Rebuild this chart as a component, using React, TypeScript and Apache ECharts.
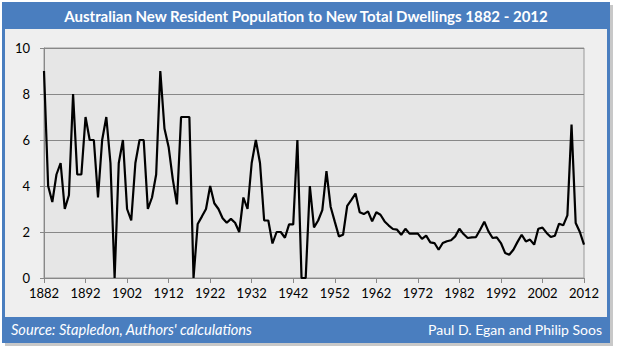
import React, { useEffect, useRef } from "react";
import * as echarts from "echarts";

const START_YEAR = 1882;
const END_YEAR = 2012;
const years: string[] = Array.from({ length: END_YEAR - START_YEAR + 1 }, (_, i) => String(START_YEAR + i));

// Ratio of new resident population to new total dwellings, 1882-2012
const ratio1882_1891 = [9.0, 4.0, 3.3, 4.5, 5.0, 3.0, 3.6, 8.0, 4.5, 4.5];
const ratio1892_1901 = [7.0, 6.0, 6.0, 3.5, 6.0, 7.0, 5.0, 0, 5.0, 6.0];
const ratio1902_1911 = [3.0, 2.5, 5.0, 6.0, 6.0, 3.0, 3.5, 4.5, 9.0, 6.5];
const ratio1912_1921 = [5.7, 4.3, 3.2, 7.0, 7.0, 7.0, 0, 2.35, 2.67, 3.0];
const ratio1922_1931 = [4.0, 3.25, 3.0, 2.6, 2.4, 2.57, 2.4, 2.0, 3.5, 3.0];
const ratio1932_1941 = [5.0, 6.0, 5.0, 2.5, 2.5, 1.5, 2.0, 2.0, 1.75, 2.33];
const ratio1942_1951 = [2.33, 6.0, 0, 0, 4.0, 2.2, 2.5, 2.95, 4.65, 3.1];
const ratio1952_1961 = [2.45, 1.81, 1.88, 3.14, 3.4, 3.67, 2.86, 2.78, 2.9, 2.46];
const ratio1962_1971 = [2.86, 2.75, 2.46, 2.28, 2.13, 2.1, 1.88, 2.14, 1.93, 1.93];
const ratio1972_1981 = [1.93, 1.7, 1.84, 1.55, 1.52, 1.23, 1.52, 1.6, 1.64, 1.81];
const ratio1982_1991 = [2.14, 1.91, 1.74, 1.77, 1.78, 2.1, 2.45, 2.03, 1.74, 1.77];
const ratio1992_2001 = [1.52, 1.09, 1.01, 1.23, 1.57, 1.88, 1.59, 1.67, 1.45, 2.14];
const ratio2002_2012 = [2.19, 1.96, 1.78, 1.84, 2.36, 2.29, 2.72, 6.67, 2.39, 2.0, 1.45];

const ratio: number[] = [
  ...ratio1882_1891,
  ...ratio1892_1901,
  ...ratio1902_1911,
  ...ratio1912_1921,
  ...ratio1922_1931,
  ...ratio1932_1941,
  ...ratio1942_1951,
  ...ratio1952_1961,
  ...ratio1962_1971,
  ...ratio1972_1981,
  ...ratio1982_1991,
  ...ratio1992_2001,
  ...ratio2002_2012,
];

const TITLE = "Australian New Resident Population to New Total Dwellings 1882 - 2012";
const SOURCE = "Source: Stapledon, Authors' calculations";
const AUTHORS = "Paul D. Egan and Philip Soos";

const FONT = "Lato, 'Open Sans', sans-serif";
const BLUE = "#4A7EBF";

export default function App() {
  const ref = useRef<HTMLDivElement>(null);

  useEffect(() => {
    if (!ref.current) return;
    const chart = echarts.init(ref.current, null, { renderer: "svg" });
    chart.setOption({
      animation: false,
      backgroundColor: "#ffffff",
      textStyle: { fontFamily: FONT },
      graphic: [
        { type: "rect", z: -20, shape: { x: 5, y: 5, width: 608, height: 341 }, style: { fill: "#c8c8c8" } },
        { type: "rect", z: -19, shape: { x: 2, y: 2, width: 608, height: 341 }, style: { fill: BLUE } },
        { type: "rect", z: -18, shape: { x: 5, y: 29, width: 602, height: 288 }, style: { fill: "#EFEFEF" } },
        {
          type: "text",
          z: 50,
          x: 306,
          y: 16,
          style: {
            text: TITLE,
            fill: "#ffffff",
            font: `bold 15px ${FONT}`,
            textAlign: "center",
            textVerticalAlign: "middle",
          },
        },
        {
          type: "text",
          z: 50,
          x: 11,
          y: 329,
          style: {
            text: SOURCE,
            fill: "#ffffff",
            font: `italic 14.6px ${FONT}`,
            textAlign: "left",
            textVerticalAlign: "middle",
          },
        },
        {
          type: "text",
          z: 50,
          x: 602,
          y: 329,
          style: {
            text: AUTHORS,
            fill: "#ffffff",
            font: `14px ${FONT}`,
            textAlign: "right",
            textVerticalAlign: "middle",
          },
        },
      ],
      grid: {
        left: 44,
        top: 48,
        right: 33,
        bottom: 74,
        show: true,
        backgroundColor: "#E6E6E6",
        borderColor: "#999999",
        borderWidth: 1,
      },
      xAxis: {
        type: "category",
        data: years,
        boundaryGap: false,
        axisLine: { show: true, lineStyle: { color: "#888888", width: 1 } },
        axisTick: { show: true, interval: 9, length: 5, lineStyle: { color: "#888888" } },
        axisLabel: { interval: 9, color: "#000000", fontSize: 13, fontFamily: FONT, margin: 8 },
        splitLine: { show: false },
      },
      yAxis: {
        type: "value",
        min: 0,
        max: 10,
        interval: 2,
        axisLine: { show: true, lineStyle: { color: "#888888", width: 1 } },
        axisTick: { show: true, length: 4, lineStyle: { color: "#888888" } },
        axisLabel: { color: "#000000", fontSize: 13, fontFamily: FONT, margin: 14 },
        splitLine: { show: true, lineStyle: { color: "#888888", width: 1 } },
      },
      series: [
        {
          type: "line",
          data: ratio,
          symbol: "none",
          lineStyle: { color: "#000000", width: 2.2 },
          itemStyle: { color: "#000000" },
          z: 5,
        },
      ],
    });
    return () => chart.dispose();
  }, []);

  return (
    <div
      ref={ref}
      style={{ position: "absolute", left: 0, top: 0, width: 617, height: 352 }}
    />
  );
}
